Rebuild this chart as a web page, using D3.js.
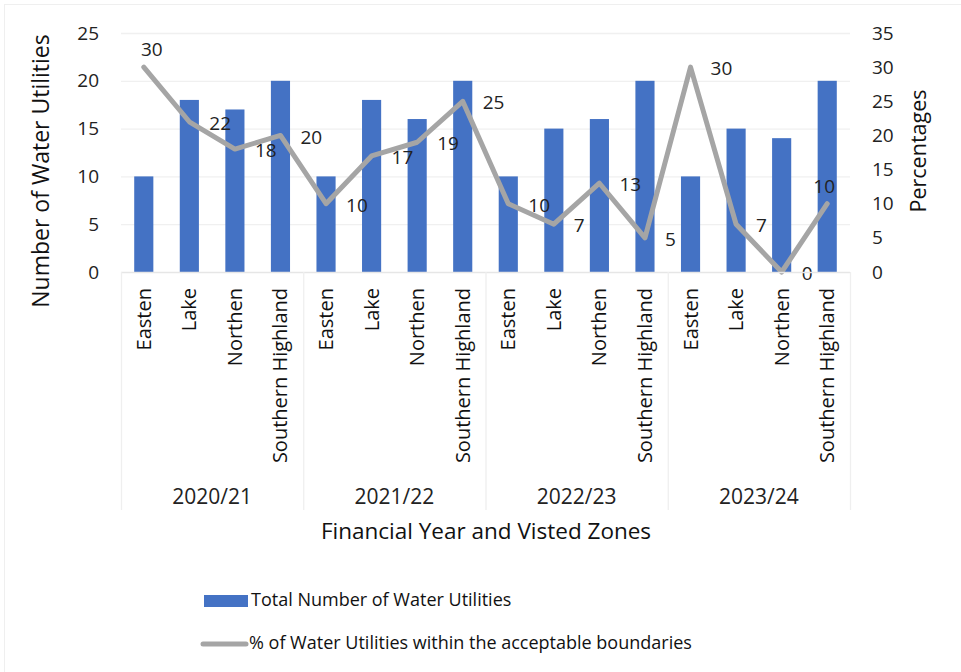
<!DOCTYPE html>
<html>
<head>
<meta charset="utf-8">
<script src="https://cdn.jsdelivr.net/npm/d3@7"></script>
<style>
  html, body { margin: 0; padding: 0; background: #fff; }
  svg { display: block; font-family: "Open Sans", "Noto Sans", sans-serif; }
</style>
</head>
<body>
<svg id="chart" width="961" height="672"></svg>
<script>
// Financial years and the zones visited in each
const years = ["2020/21", "2021/22", "2022/23", "2023/24"];
const zones = ["Easten", "Lake", "Northen", "Southern Highland"];

// Total number of water utilities per zone (left axis)
const utilities = [10, 18, 17, 20, 10, 18, 16, 20, 10, 15, 16, 20, 10, 15, 14, 20];
// % of water utilities within the acceptable boundaries (right axis)
const percentages = [30, 22, 18, 20, 10, 17, 19, 25, 10, 7, 13, 5, 30, 7, 0, 10];

const leftTicks = [0, 5, 10, 15, 20, 25];
const rightTicks = [0, 5, 10, 15, 20, 25, 30, 35];

const barName = "Total Number of Water Utilities";
const lineName = "% of Water Utilities within the acceptable boundaries";

const rows = [];
years.forEach((y, yi) => zones.forEach((z, zi) => {
  const i = yi * zones.length + zi;
  rows.push({ key: y + "|" + z, year: y, zone: z, count: utilities[i], pct: percentages[i] });
}));

const svg = d3.select("#chart");
const plot = { left: 121, right: 850, top: 33, bottom: 272 };

// faint chart frame
svg.append("rect").attr("x", 4.5).attr("y", 4.5).attr("width", 1000).attr("height", 1000)
  .attr("fill", "none").attr("stroke", "#efefef");

const x = d3.scaleBand().domain(rows.map(d => d.key)).range([plot.left, plot.right]).paddingInner(0.58).paddingOuter(0.29);
const xc = d => x(d.key) + x.bandwidth() / 2;
const yL = d3.scaleLinear().domain([0, 25]).range([plot.bottom, plot.top]);
const yR = d3.scaleLinear().domain([0, 35]).range([plot.bottom, plot.top]);

// gridlines
svg.append("g").selectAll("line").data(leftTicks.filter(t => t > 0)).join("line")
  .attr("x1", plot.left).attr("x2", plot.right)
  .attr("y1", d => yL(d) + 0.5).attr("y2", d => yL(d) + 0.5)
  .attr("stroke", "#f0f0f0").attr("stroke-width", 1.3);

// left axis
const axL = svg.append("g").attr("transform", `translate(${plot.left},0)`)
  .call(d3.axisLeft(yL).tickValues(leftTicks).tickSize(0).tickPadding(22));
axL.select(".domain").remove();
axL.selectAll("text").attr("font-size", 19).attr("fill", "#222").attr("font-family", "Open Sans");

// right axis
const axR = svg.append("g").attr("transform", `translate(${plot.right},0)`)
  .call(d3.axisRight(yR).tickValues(rightTicks).tickSize(0).tickPadding(22));
axR.select(".domain").remove();
axR.selectAll("text").attr("font-size", 19).attr("fill", "#222").attr("font-family", "Open Sans");

// bars
svg.append("g").selectAll("rect").data(rows).join("rect")
  .attr("x", d => x(d.key)).attr("width", x.bandwidth())
  .attr("y", d => yL(d.count)).attr("height", d => yL(0) - yL(d.count))
  .attr("fill", "#4472C4");

// line
const line = d3.line().x(xc).y(d => yR(d.pct));
svg.append("path").datum(rows).attr("d", line)
  .attr("fill", "none").attr("stroke", "#A5A5A5").attr("stroke-width", 5)
  .attr("stroke-linejoin", "round").attr("stroke-linecap", "round");

// line data labels: right of the point, above it at the two ends
svg.append("g").selectAll("text").data(rows).join("text")
  .each(function (d, i) {
    const t = d3.select(this);
    const ends = i === 0 || i === rows.length - 1;
    if (ends) {
      t.attr("x", xc(d) + (i === 0 ? 8 : -3)).attr("y", yR(d.pct) - 16).attr("text-anchor", "middle");
    } else {
      t.attr("x", xc(d) + 20).attr("y", yR(d.pct) + 3).attr("text-anchor", "start");
    }
  })
  .attr("dominant-baseline", "middle")
  .attr("font-size", 19).attr("fill", "#222")
  .text(d => d.pct);

// category axis: baseline, group separators, zone and year labels
const sepBottom = 510;
svg.append("line").attr("x1", plot.left).attr("x2", plot.right)
  .attr("y1", plot.bottom + 0.5).attr("y2", plot.bottom + 0.5)
  .attr("stroke", "#e6e6e6").attr("stroke-width", 1.3);

const groupEdges = years.map((y, i) => plot.left + i * (plot.right - plot.left) / years.length);
groupEdges.push(plot.right);
svg.append("g").selectAll("line").data(groupEdges).join("line")
  .attr("x1", d => d + 0.5).attr("x2", d => d + 0.5)
  .attr("y1", plot.bottom).attr("y2", sepBottom)
  .attr("stroke", "#efefef").attr("stroke-width", 1.3);

svg.append("g").selectAll("text").data(rows).join("text")
  .attr("transform", d => `translate(${xc(d) + 7},288) rotate(-90)`)
  .attr("text-anchor", "end")
  .attr("font-size", 20).attr("fill", "#111")
  .text(d => d.zone);

svg.append("g").selectAll("text").data(years).join("text")
  .attr("x", (d, i) => (groupEdges[i] + groupEdges[i + 1]) / 2)
  .attr("y", 504)
  .attr("text-anchor", "middle")
  .attr("font-size", 21).attr("fill", "#222")
  .text(d => d);

// axis titles
svg.append("text").attr("x", 486).attr("y", 539).attr("text-anchor", "middle")
  .attr("font-size", 22.5).attr("fill", "#111").text("Financial Year and Visted Zones");
svg.append("text").attr("transform", "translate(49,171) rotate(-90)").attr("text-anchor", "middle")
  .attr("font-size", 23).attr("fill", "#111").text("Number of Water Utilities");
svg.append("text").attr("transform", "translate(926,151) rotate(-90)").attr("text-anchor", "middle")
  .attr("font-size", 21.5).attr("fill", "#111").text("Percentages");

// legend
const lg = svg.append("g");
lg.append("rect").attr("x", 204).attr("y", 595).attr("width", 44).attr("height", 12).attr("fill", "#4472C4");
lg.append("text").attr("x", 251).attr("y", 601).attr("dominant-baseline", "middle")
  .attr("font-size", 18).attr("fill", "#111").text(barName);
lg.append("line").attr("x1", 203).attr("x2", 246).attr("y1", 644).attr("y2", 644)
  .attr("stroke", "#A5A5A5").attr("stroke-width", 5).attr("stroke-linecap", "round");
lg.append("text").attr("x", 249).attr("y", 644).attr("dominant-baseline", "middle")
  .attr("font-size", 18).attr("fill", "#111").text(lineName);
</script>
</body>
</html>
